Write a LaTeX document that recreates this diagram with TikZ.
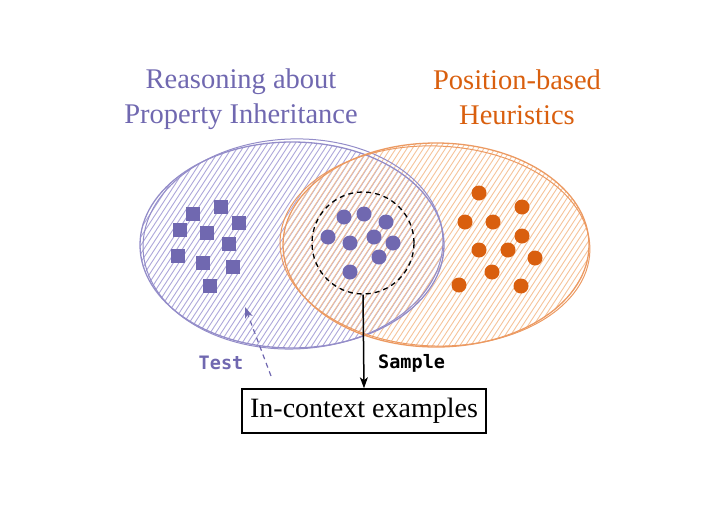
\documentclass[tikz,border=0pt]{standalone}
\usepackage{fontspec}
\setmainfont{Liberation Serif}
\setmonofont{DejaVu Sans Mono}
\usetikzlibrary{arrows.meta}
\definecolor{lila}{HTML}{7068B0}
\definecolor{lilabordo}{HTML}{948DC9}
\definecolor{lilatratto}{HTML}{ADA7DA}
\definecolor{arancio}{HTML}{D95F0E}
\definecolor{aranciobordo}{HTML}{EC9A62}
\definecolor{aranciotratto}{HTML}{F5C39A}

\begin{document}
\begin{tikzpicture} [>={Stealth[length=11pt, width=8pt, inset=3pt]}, x=1pt, y=-1pt,
	quadrato/.style={fill=lila, minimum size=14pt, inner sep=0pt},
	pallino/.style={circle, fill=#1, minimum size=15pt, inner sep=0pt},
	titolo/.style={align=center, inner sep=0pt, font=\fontsize{28.5}{35.5}\selectfont},
	etichetta/.style={inner sep=0pt, font=\fontsize{18.5}{20}\selectfont\ttfamily\bfseries}]
	\useasboundingbox (0,0) rectangle (720,507);
	%%% Tratteggio
	\begin{scope}
		\clip (292,245) ellipse [x radius=152, y radius=103];
		\foreach \i in {0,5.5,...,560}
		\draw[lilatratto, line width=0.9pt] (\i,360) -- (\i+150,130);
	\end{scope}
	\begin{scope}
		\clip (436,245) ellipse [x radius=153, y radius=102];
		\foreach \i in {140,145.5,...,700}
		\draw[aranciotratto, line width=0.9pt] (\i+2.5,360) -- (\i+152.5,130);
	\end{scope}
	%%% Bordi
	\draw[lilabordo, line width=1.3pt] (292,245) ellipse [x radius=152, y radius=103];
	\draw[lilabordo, line width=1pt, rotate around={2:(292,245)}] (293,244) ellipse [x radius=150, y radius=105];
	\draw[aranciobordo, line width=1.3pt] (436,245) ellipse [x radius=153, y radius=102];
	\draw[aranciobordo, line width=1pt, rotate around={-2:(436,245)}] (435,246) ellipse [x radius=155, y radius=100];
	%%% Titoli
	\node[titolo, text=lila] (ragionamento) at (241,99) {Reasoning about\\Property Inheritance};
	\node[titolo, text=arancio] (euristiche) at (517,97) {Position-based\\Heuristics};
	%%% Quadrati
	\foreach \x/\y [count=\n] in {193/214, 221/207, 239/223, 180/230, 207/233, 229/244, 178/256, 203/263, 233/267, 210/286}
	\node[quadrato] (q\n) at (\x,\y) {};
	%%% Campione
	\node[circle, draw, line width=1.3pt, dash pattern=on 5pt off 4pt, minimum size=102pt] (cerchio) at (363,243) {};
	\foreach \x/\y [count=\n] in {344/217, 364/214, 386/222, 328/237, 350/243, 374/237, 393/243, 379/257, 350/272}
	\node[pallino=lila] (c\n) at (\x,\y) {};
	%%% Pallini arancio
	\foreach \x/\y [count=\n] in {479/193, 522/207, 465/222, 493/222, 522/236, 479/250, 508/250, 535/258, 492/272, 459/285, 521/286}
	\node[pallino=arancio] (p\n) at (\x,\y) {};
	%%% Esempi
	\node[draw, line width=1.5pt, inner xsep=8pt, minimum height=44pt, font=\fontsize{28}{30}\selectfont] (esempi) at (364,411) {In-context examples};
	\draw[->, line width=1.5pt] (cerchio.south) -- (esempi.north);
	\node[etichetta, anchor=west] (campione) at (378,363) {Sample};
	%%% Test
	\node[etichetta, text=lila] (test) at (221,363) {Test};
	\coordinate (coda) at (271,376);
	\coordinate (punta) at (245,307);
	\draw[->, lila, line width=1.2pt, dash pattern=on 5pt off 4pt] (coda) -- (punta);
\end{tikzpicture}
\end{document}
